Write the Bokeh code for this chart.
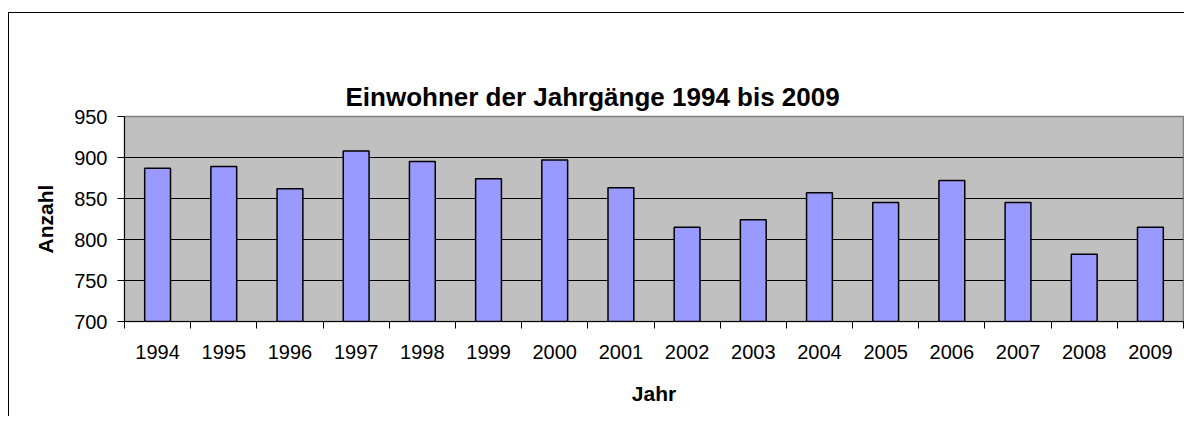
from bokeh.plotting import figure
from bokeh.models import FixedTicker, Range1d, LinearAxis
from bokeh.embed import file_html
from bokeh.resources import INLINE
import numpy as np

years = ["1994", "1995", "1996", "1997", "1998", "1999", "2000", "2001",
         "2002", "2003", "2004", "2005", "2006", "2007", "2008", "2009"]
anzahl = [887, 889, 862, 908, 895, 874, 897, 863,
          815, 824, 857, 845, 872, 845, 782, 815]
y_ticks = [700, 750, 800, 850, 900, 950]

title_text = "Einwohner der Jahrgänge 1994 bis 2009"
x_label = "Jahr"
y_label = "Anzahl"

FONT = "Liberation Sans"

n = len(years)
centers = [i + 0.5 for i in range(n)]
bounds = [float(i) for i in range(n + 1)]

p = figure(width=1176, height=404, output_backend="svg", toolbar_location=None,
           x_range=Range1d(0, n), y_range=Range1d(700, 950),
           min_border_left=115, min_border_right=2, min_border_top=103,
           min_border_bottom=96, margin=(12, 0, 0, 8))
p.styles = {"border-left": "1px solid black", "border-top": "1px solid black"}

xa = p.below[0]
ya = p.left[0]

p.title.text = title_text
p.title.text_font = FONT
p.title.text_font_size = "26px"
p.title.text_font_style = "bold"
p.title.text_color = "black"
p.title.align = "left"
p.title.offset = 221
p.title.standoff = 10

# invisible top axis used only as a spacer between title and plot area
spacer = LinearAxis(ticker=FixedTicker(ticks=[]), axis_line_color=None,
                    major_tick_line_color=None, minor_tick_line_color=None,
                    major_tick_out=52, major_tick_in=0, minor_tick_out=0,
                    minor_tick_in=0, major_label_standoff=0,
                    major_label_text_font_size="0px")
p.add_layout(spacer, "above")

p.background_fill_color = "#C0C0C0"
p.border_fill_color = "white"
p.outline_line_color = "#808080"
p.outline_line_width = 1.5

p.vbar(x=centers, top=anzahl, bottom=700, width=0.39,
       fill_color="#9999FF", line_color="black", line_width=1.5)

# x axis
xa.ticker = FixedTicker(ticks=centers, minor_ticks=bounds)
xa.major_label_overrides = {c: y for c, y in zip(centers, years)}
xa.major_tick_out = 0
xa.major_tick_in = 0
xa.minor_tick_out = 7
xa.minor_tick_in = 0
xa.minor_tick_line_color = "black"
xa.axis_line_color = "black"
xa.major_label_text_font = FONT
xa.major_label_text_font_size = "20px"
xa.major_label_text_color = "black"
xa.major_label_standoff = 16
xa.axis_label = x_label
xa.axis_label_text_font = FONT
xa.axis_label_text_font_size = "21px"
xa.axis_label_text_font_style = "bold"
xa.axis_label_text_color = "black"
xa.axis_label_standoff = 20

# y axis
ya.ticker = FixedTicker(ticks=y_ticks)
ya.major_tick_out = 7
ya.major_tick_in = 0
ya.minor_tick_out = 0
ya.minor_tick_in = 0
ya.axis_line_color = "black"
ya.major_tick_line_color = "black"
ya.major_label_text_font = FONT
ya.major_label_text_font_size = "20px"
ya.major_label_text_color = "black"
ya.major_label_standoff = 10
ya.axis_label = y_label
ya.axis_label_text_font = FONT
ya.axis_label_text_font_size = "21px"
ya.axis_label_text_font_style = "bold"
ya.axis_label_text_color = "black"
ya.axis_label_standoff = 14

p.xgrid.grid_line_color = None
p.ygrid.grid_line_color = "black"
p.ygrid.grid_line_width = 1

open("out.html", "w").write(file_html(p, INLINE))
